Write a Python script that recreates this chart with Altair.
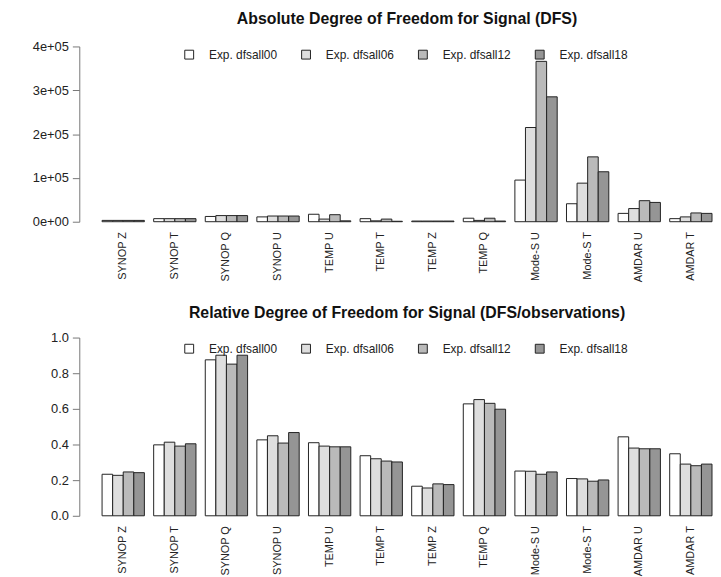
import altair as alt
import pandas as pd

categories = ["SYNOP Z", "SYNOP T", "SYNOP Q", "SYNOP U", "TEMP U", "TEMP T",
              "TEMP Z", "TEMP Q", "Mode-S U", "Mode-S T", "AMDAR U", "AMDAR T"]
series = ["Exp. dfsall00", "Exp. dfsall06", "Exp. dfsall12", "Exp. dfsall18"]

# Absolute DFS (per category: dfsall00, 06, 12, 18)
abs_00 = [3000, 7000, 12000, 11000, 17000, 7000, 1500, 8000, 95000, 41000, 19000, 7000]
abs_06 = [3000, 7000, 14000, 13000, 6000, 2000, 1500, 3000, 215000, 88000, 30000, 11000]
abs_12 = [3000, 7000, 14000, 13000, 16000, 6000, 1500, 8000, 366000, 148000, 48000, 20000]
abs_18 = [3000, 7000, 14000, 13000, 2000, 1000, 1500, 1500, 285000, 114000, 44000, 19000]

# Relative DFS (DFS / observations)
rel_00 = [0.233, 0.398, 0.875, 0.426, 0.410, 0.337, 0.166, 0.628, 0.251, 0.209, 0.443, 0.348]
rel_06 = [0.227, 0.413, 0.901, 0.449, 0.391, 0.320, 0.156, 0.652, 0.250, 0.207, 0.380, 0.290]
rel_12 = [0.246, 0.391, 0.851, 0.408, 0.387, 0.307, 0.179, 0.631, 0.233, 0.194, 0.376, 0.281]
rel_18 = [0.242, 0.404, 0.901, 0.467, 0.387, 0.302, 0.175, 0.598, 0.246, 0.201, 0.376, 0.290]

fills = ["#ffffff", "#dedede", "#bababa", "#959595"]

def long_table(cols):
    rows = []
    for s, vals in zip(series, cols):
        for c, v in zip(categories, vals):
            rows.append({"cat": c, "series": s, "value": v})
    return pd.DataFrame(rows)

abs_df = long_table([abs_00, abs_06, abs_12, abs_18])
rel_df = long_table([rel_00, rel_06, rel_12, rel_18])

FONT = "Liberation Sans"

def panel(df, title, ydomain, yticks, label_expr, height, legend_y, title_offset):
    return alt.Chart(df, title=alt.TitleParams(
        title, fontSize=16, fontWeight="bold", font=FONT, color="#111",
        offset=title_offset, anchor="middle")).mark_bar(
        stroke="#222", strokeWidth=1
    ).encode(
        x=alt.X("cat:N", sort=categories, title=None,
                scale=alt.Scale(paddingInner=0.18, paddingOuter=0.0),
                axis=alt.Axis(labelAngle=-90, domain=False, ticks=False,
                              labelPadding=10, labelFontSize=11, labelFont=FONT,
                              labelColor="#222")),
        xOffset=alt.XOffset("series:N", sort=series,
                            scale=alt.Scale(paddingInner=0, paddingOuter=0)),
        y=alt.Y("value:Q", title=None,
                scale=alt.Scale(domain=ydomain, nice=False, zero=True),
                axis=alt.Axis(values=yticks, labelExpr=label_expr, offset=23,
                              grid=False, domainColor="#777", tickColor="#777",
                              tickSize=7, labelFontSize=13, labelFont=FONT,
                              labelColor="#222", labelPadding=4)),
        fill=alt.Fill("series:N", sort=series,
                      scale=alt.Scale(domain=series, range=fills),
                      legend=alt.Legend(title=None, orient="none", direction="horizontal",
                                        legendX=82, legendY=legend_y,
                                        symbolType="square", symbolSize=80,
                                        symbolStrokeColor="#222", symbolStrokeWidth=1,
                                        labelFontSize=12, labelFont=FONT, labelColor="#222",
                                        labelOffset=14, columnPadding=22,
                                        columns=4)),
    ).properties(width=616, height=height)

top = panel(abs_df, "Absolute Degree of Freedom for Signal (DFS)", [0, 400000],
            [0, 100000, 200000, 300000, 400000],
            "replace(format(datum.value, '.0e'), 'e+', 'e+0')", 177, 2, 14)
bottom = panel(rel_df, "Relative Degree of Freedom for Signal (DFS/observations)", [0, 1],
               [0, 0.2, 0.4, 0.6, 0.8, 1.0], "format(datum.value, '.1f')", 180, 5, 11)

chart = alt.vconcat(top, bottom, spacing=23).resolve_legend(fill="independent").resolve_scale(
    x="independent", y="independent").configure_view(stroke=None).properties(
    padding={"left": 24, "top": 0, "right": 0, "bottom": 0})

chart.save("out.html", embed_options={"renderer": "svg", "actions": False})
